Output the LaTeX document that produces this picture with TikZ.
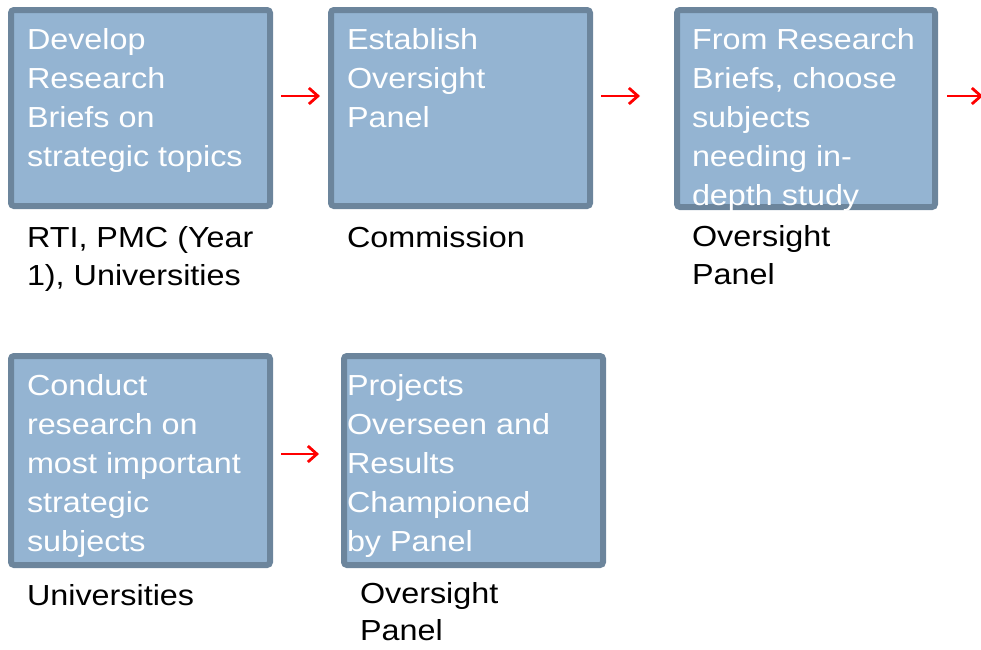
\documentclass[tikz,border=0pt]{standalone}
\usepackage{fontspec}
\setmainfont{Liberation Sans}[FakeStretch=1.115]
\usetikzlibrary{arrows.meta}
\definecolor{boxfill}{RGB}{148,180,210}
\definecolor{boxline}{RGB}{108,133,156}
\definecolor{arrred}{RGB}{255,0,0}
\tikzset{
  flowbox/.style={fill=boxfill, draw=boxline, line width=6pt, inner sep=0pt, outer sep=0pt, rectangle, rounded corners=3pt},
  boxtext/.style={anchor=base west, inner sep=0pt, outer sep=0pt, text=white, font=\fontsize{29}{39.2}\selectfont},
  labeltext/.style={anchor=base west, inner sep=0pt, outer sep=0pt, text=black, font=\fontsize{29}{38}\selectfont},
  flowarrow/.style={draw=arrred, line width=2.8pt, -{Straight Barb[length=9pt,width=16pt]}}
}
\begin{document}
\begin{tikzpicture}[x=1pt,y=-1pt]
\useasboundingbox (0,0) rectangle (981,649);
% boxes
\node[flowbox, minimum width=259pt, minimum height=196pt] (b1) at (140.5,108) {};
\node[flowbox, minimum width=259pt, minimum height=196pt] (b2) at (460.5,108) {};
\node[flowbox, minimum width=258pt, minimum height=197pt] (b3) at (806,108.5) {};
\node[flowbox, minimum width=259pt, minimum height=209pt] (b4) at (140.5,460.5) {};
\node[flowbox, minimum width=259pt, minimum height=209pt] (b5) at (473.5,460.5) {};
% box texts (drawn over the boxes)
\node[boxtext] (t1) at (27,49) {\begin{tabular}[t]{@{}l@{}}Develop\\Research\\Briefs on\\strategic topics\end{tabular}};
\node[boxtext] (t2) at (347,49.5) {\begin{tabular}[t]{@{}l@{}}Establish\\Oversight\\Panel\end{tabular}};
\node[boxtext] (t3) at (692,49) {\begin{tabular}[t]{@{}l@{}}From Research\\Briefs, choose\\subjects\\needing in-\\depth study\end{tabular}};
\node[boxtext] (t4) at (27,395) {\begin{tabular}[t]{@{}l@{}}Conduct\\research on\\most important\\strategic\\subjects\end{tabular}};
\node[boxtext] (t5) at (347,395) {\begin{tabular}[t]{@{}l@{}}Projects\\Overseen and\\Results\\Championed\\by Panel\end{tabular}};
% labels under the boxes
\node[labeltext] (l1) at (27,247) {\begin{tabular}[t]{@{}l@{}}RTI, PMC (Year\\1), Universities\end{tabular}};
\node[labeltext] (l2) at (347,247) {Commission};
\node[labeltext] (l3) at (692,246) {\begin{tabular}[t]{@{}l@{}}Oversight\\Panel\end{tabular}};
\node[labeltext] (l4) at (27,605) {Universities};
\node[labeltext, font=\fontsize{29}{37}\selectfont] (l5) at (360,603) {\begin{tabular}[t]{@{}l@{}}Oversight\\Panel\end{tabular}};
% arrows
\coordinate (edge) at (983,96);
\draw[flowarrow] ([xshift=11pt,yshift=12pt]b1.east) -- ([xshift=-11pt,yshift=12pt]b2.west);
\draw[flowarrow] ([xshift=11pt,yshift=12pt]b2.east) -- ([xshift=-37pt,yshift=12.5pt]b3.west);
\draw[flowarrow] ([xshift=12pt,yshift=12.5pt]b3.east) -- (edge);
\draw[flowarrow] ([xshift=11pt,yshift=6.5pt]b4.east) -- ([xshift=-25pt,yshift=6.5pt]b5.west);
\end{tikzpicture}
\end{document}
